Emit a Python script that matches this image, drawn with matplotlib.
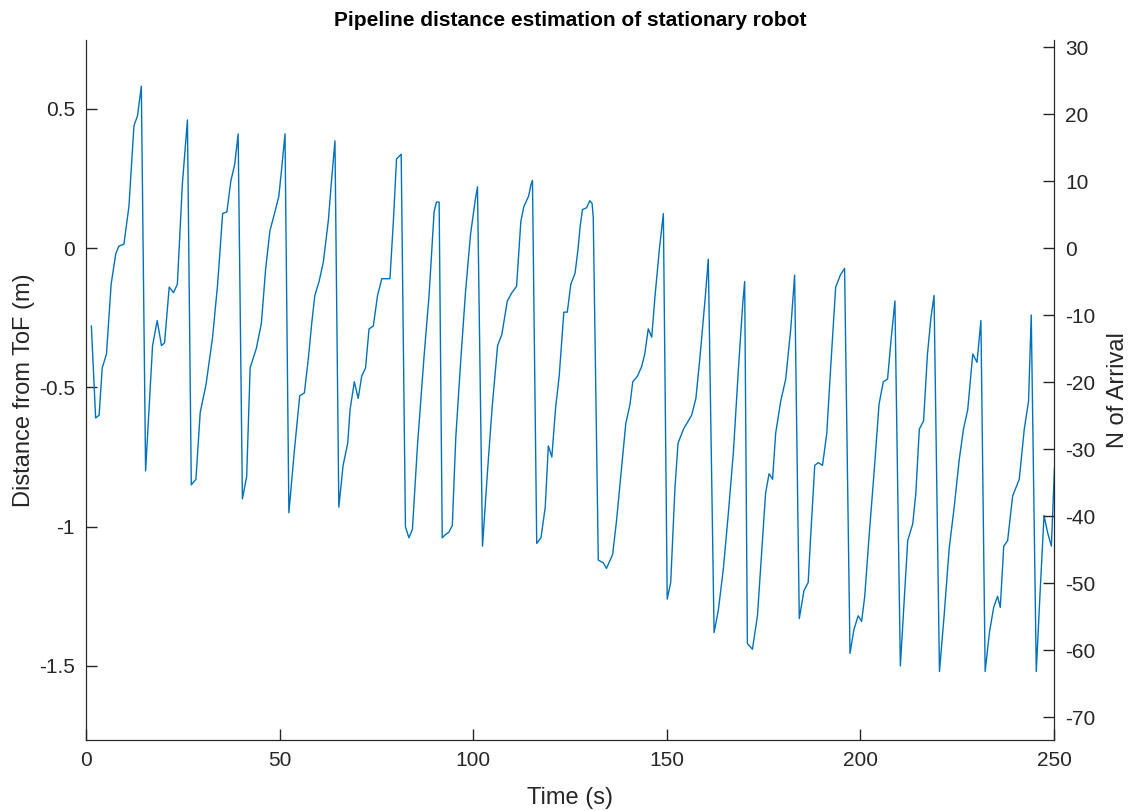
import matplotlib.pyplot as plt
import numpy as np

# time (s) and distance from ToF (m)
time_s = [1.4, 2.5, 3.4, 4.2, 5.3, 6.5, 7.7, 8.5, 9.8, 11.1, 12.4, 13.3, 14.3,
          15.4, 17.2, 18.4, 19.5, 20.3, 21.5, 22.6, 23.6, 24.9, 26.2,
          27.2, 28.4, 29.5, 31.0, 32.7, 34.0, 35.3, 36.4, 37.4, 38.4, 39.3,
          40.4, 41.5, 42.4, 44.0, 45.3, 46.4, 47.5, 48.8, 49.8, 50.5, 51.4,
          52.4, 53.8, 55.2, 56.4, 57.4, 58.3, 59.1, 60.2, 61.3, 62.6, 63.4, 64.3,
          65.3, 66.4, 67.6, 68.2, 69.3, 70.3, 71.2, 72.2, 73.1, 74.2, 75.3, 76.4,
          78.5, 79.4, 80.2, 81.4,
          82.5, 83.4, 84.3, 85.6, 87.3, 88.6, 89.9, 90.5, 91.2,
          92.0, 92.7, 93.7, 94.6, 95.5, 96.8, 98.0, 99.3, 100.5, 101.1,
          102.4, 103.7, 104.9, 106.3, 107.4, 108.8, 110.0, 111.2, 112.3, 113.1,
          114.3, 114.9, 115.3,
          116.4, 117.5, 118.6, 119.4, 120.3, 121.3, 122.2, 123.4, 124.3, 125.2,
          126.3, 127.1, 127.6, 128.2, 129.3, 130.1, 130.7, 131.0,
          132.3, 133.6, 134.4, 136.0, 137.0, 138.3, 139.4, 140.5, 141.2, 142.4,
          143.5, 144.3, 145.2, 146.1, 146.9, 148.1, 149.1,
          150.1, 151.0, 152.1, 152.9, 154.3, 156.4, 157.5, 158.5, 159.9, 160.7,
          162.2, 163.3, 164.6, 165.9, 167.2, 168.5, 169.6, 170.1,
          170.8, 172.1, 173.4, 174.7, 175.5, 176.4, 177.3, 178.1, 179.4, 180.7,
          182.0, 183.0,
          184.2, 185.4, 186.5, 187.2, 188.2, 189.1, 190.2, 191.3, 192.3, 193.6,
          194.8, 195.9,
          197.3, 198.3, 199.4, 200.3, 201.1, 202.2, 203.6, 204.8, 205.9, 207.0,
          207.9, 208.9,
          210.3, 211.3, 212.2, 213.5, 214.3, 215.2, 216.3, 217.3, 218.2, 219.0,
          220.4, 221.6, 222.9, 224.2, 225.5, 226.6, 227.7, 229.0, 230.1, 231.1,
          232.2, 233.3, 234.4, 235.4, 236.1, 237.0, 238.0, 239.3, 241.0, 242.3,
          243.4, 244.1,
          245.4, 246.3, 247.4, 248.3, 249.3, 250.1]
dist_m = [-0.28, -0.61, -0.60, -0.43, -0.38, -0.13, -0.02, 0.007, 0.014, 0.15, 0.44, 0.474, 0.581,
          -0.80, -0.35, -0.26, -0.35, -0.34, -0.14, -0.16, -0.13, 0.23, 0.46,
          -0.85, -0.83, -0.59, -0.49, -0.32, -0.13, 0.124, 0.13, 0.24, 0.30, 0.41,
          -0.90, -0.82, -0.43, -0.36, -0.27, -0.075, 0.062, 0.13, 0.186, 0.28, 0.41,
          -0.95, -0.73, -0.53, -0.52, -0.40, -0.27, -0.17, -0.12, -0.05, 0.10, 0.24, 0.385,
          -0.93, -0.78, -0.70, -0.58, -0.48, -0.54, -0.46, -0.43, -0.29, -0.28, -0.17, -0.11,
          -0.11, 0.10, 0.32, 0.337,
          -1.00, -1.04, -1.01, -0.71, -0.39, -0.17, 0.13, 0.165, 0.165,
          -1.04, -1.03, -1.02, -0.996, -0.68, -0.40, -0.16, 0.048, 0.17, 0.22,
          -1.07, -0.80, -0.57, -0.35, -0.31, -0.19, -0.16, -0.137, 0.096, 0.15,
          0.186, 0.227, 0.243,
          -1.06, -1.04, -0.93, -0.71, -0.75, -0.57, -0.46, -0.23, -0.23, -0.13,
          -0.09, 0.0, 0.076, 0.138, 0.145, 0.17, 0.16, 0.11,
          -1.12, -1.13, -1.15, -1.10, -0.98, -0.79, -0.63, -0.56, -0.48, -0.46,
          -0.425, -0.38, -0.29, -0.32, -0.18, 0.0, 0.124,
          -1.26, -1.20, -0.86, -0.70, -0.65, -0.60, -0.54, -0.40, -0.18, -0.04,
          -1.38, -1.30, -1.15, -0.95, -0.73, -0.43, -0.20, -0.12,
          -1.42, -1.44, -1.32, -1.05, -0.88, -0.81, -0.83, -0.665, -0.55, -0.47,
          -0.29, -0.097,
          -1.33, -1.23, -1.20, -1.02, -0.78, -0.77, -0.78, -0.665, -0.43, -0.14,
          -0.097, -0.073,
          -1.455, -1.37, -1.32, -1.34, -1.25, -1.04, -0.79, -0.56, -0.48, -0.47,
          -0.33, -0.19,
          -1.50, -1.26, -1.05, -0.99, -0.88, -0.65, -0.62, -0.38, -0.25, -0.17,
          -1.52, -1.32, -1.08, -0.93, -0.76, -0.65, -0.58, -0.38, -0.41, -0.26,
          -1.52, -1.38, -1.29, -1.25, -1.29, -1.07, -1.05, -0.89, -0.83, -0.65,
          -0.55, -0.24,
          -1.52, -1.26, -0.96, -1.02, -1.07, -0.79]

x_ticks = [0, 50, 100, 150, 200, 250]
left_ticks = [-1.5, -1, -0.5, 0, 0.5]
left_labels = ['-1.5', '-1', '-0.5', '0', '0.5']
right_ticks = [-70, -60, -50, -40, -30, -20, -10, 0, 10, 20, 30]

plt.rcParams['font.family'] = ['Liberation Sans', 'DejaVu Sans']
plt.rcParams['axes.unicode_minus'] = False
axis_col = '#262626'

fig = plt.figure(figsize=(11.31, 8.11), dpi=100)
ax = fig.add_axes([0.076, 0.0875, 0.856, 0.8632])
ax.plot(time_s, dist_m, color='#0072BD', linewidth=1.0)

ylo, yhi = -1.766, 0.747
ax.set_xlim(0, 250)
ax.set_ylim(ylo, yhi)
ax.set_xticks(x_ticks)
ax.set_yticks(left_ticks)
ax.set_yticklabels(left_labels)
ax.tick_params(direction='in', length=8, width=1, colors=axis_col, labelsize=15, pad=8)
ax.set_xlabel('Time (s)', fontsize=17, color=axis_col, labelpad=12)
ax.set_ylabel('Distance from ToF (m)', fontsize=17, color=axis_col, labelpad=3)
ax.set_title('Pipeline distance estimation of stationary robot',
             fontsize=15, fontweight='bold', pad=10)
ax.spines['top'].set_visible(False)
for s in ['left', 'bottom', 'right']:
    ax.spines[s].set_color(axis_col)

ax2 = ax.twinx()
k = 41.58
ax2.set_ylim(ylo * k, yhi * k)
ax2.set_yticks(right_ticks)
ax2.tick_params(direction='in', length=8, width=1, colors=axis_col, labelsize=15, pad=8)
ax2.set_ylabel('N of Arrival', fontsize=17, color=axis_col, labelpad=8)
ax2.spines['top'].set_visible(False)
for s in ['left', 'bottom', 'right']:
    ax2.spines[s].set_color(axis_col)

fig.savefig('out.png', dpi=100, facecolor='white')
